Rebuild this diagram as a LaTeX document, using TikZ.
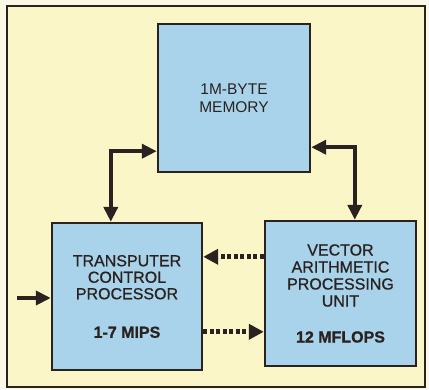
\documentclass[tikz,border=0pt]{standalone}
\usepackage{fontspec}
\setmainfont{Liberation Sans}
\newfontfamily\medfont{Liberation Sans}[FakeBold=0.9]
\usetikzlibrary{arrows.meta,calc}
\definecolor{paper}{HTML}{FBF8E6}
\definecolor{panel}{HTML}{FBF6C8}
\definecolor{boxblue}{HTML}{A9D3EA}
\definecolor{ink}{HTML}{2A2220}
\tikzset{
  blk/.style={draw=ink, line width=2.4pt, fill=boxblue, inner sep=0pt, align=center, text=ink},
  dbl/.style={draw=ink, line width=4.2pt, {Triangle[length=15pt,width=14pt]}-{Triangle[length=15pt,width=14pt]}},
  sgl/.style={draw=ink, line width=4.2pt, -{Triangle[length=15pt,width=14pt]}},
  dotarr/.style={draw=ink, line width=5pt, dash pattern=on 4pt off 2.5pt, -{Triangle[length=15pt,width=15pt]}}
}
\begin{document}
\begin{tikzpicture}[x=1pt,y=-1pt]
\useasboundingbox (0,0) rectangle (429,389);
\fill[paper] (0,0) rectangle (429,389);
\draw[ink, line width=1.5pt, fill=panel] (7,6) rectangle (425,387);
\node[blk, minimum width=152pt, minimum height=148pt, font=\fontsize{15.5}{18}\selectfont] (mem) at (234,98)
  {1M-BYTE\\MEMORY};
\node[blk, minimum width=150pt, minimum height=147pt, font=\fontsize{16}{16.5}\medfont] (tcp) at (127,296.5)
  {TRANSPUTER\\CONTROL\\PROCESSOR\\[22pt]\textbf{1-7 MIPS}};
\node[blk, minimum width=151pt, minimum height=145pt, font=\fontsize{16}{17}\medfont] (vapu) at (340.5,293.5)
  {VECTOR\\ARITHMETIC\\PROCESSING\\UNIT\\[19pt]\textbf{12 MFLOPS}};
\coordinate (m1) at ($(mem.south west)+(0,-22)$);
\coordinate (t1) at ($(tcp.north west)+(60,0)$);
\coordinate (m2) at ($(mem.south east)+(0,-26)$);
\coordinate (v1) at ($(vapu.north west)+(91,0)$);
\draw[dbl] (m1) -| (t1);
\draw[dbl] (m2) -| (v1);
\coordinate (va) at ($(vapu.north west)+(0,37)$);
\coordinate (tb) at ($(tcp.north east)+(0,110)$);
\draw[dotarr] (va) -- (va -| tcp.east);
\draw[dotarr] (tb) -- (tb -| vapu.west);
\coordinate (in) at (17,298);
\draw[sgl] (in) -- (in -| tcp.west);
\end{tikzpicture}
\end{document}
